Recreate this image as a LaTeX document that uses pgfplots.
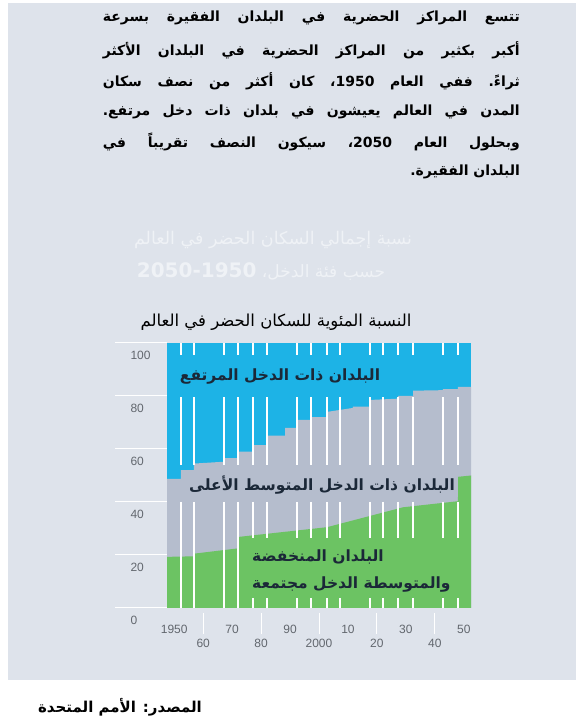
\documentclass[border=0pt]{standalone}
\usepackage{pgfplots}
\pgfplotsset{compat=1.18}
\usepackage{fontspec}
\setmainfont{Liberation Sans}
\newfontfamily\arabicfont[Script=Arabic]{DejaVu Sans}
\TeXXeTstate=1
\definecolor{panel}{HTML}{DEE3EB}
\definecolor{hiblue}{HTML}{1DB3E6}
\definecolor{midgrey}{HTML}{B5BDCD}
\definecolor{lowgreen}{HTML}{6CC363}
\definecolor{ticktext}{HTML}{62676E}
\definecolor{faint}{HTML}{EFF2F6}
\definecolor{labtext}{HTML}{1B2838}
\newcommand{\pline}[2]{\node[anchor=east, inner sep=0pt] at (520,#1)
  {\fontsize{14}{16}\selectfont\bfseries\makebox[417pt][s]{\arabicfont\beginR #2\endR}};}

\begin{document}
\begin{tikzpicture}[x=1pt, y=1pt]
\path[use as bounding box] (0,0) rectangle (576,721);
\fill[white] (0,0) rectangle (576,721);
\fill[panel] (8,41) rectangle (576,718);

% paragraph
\pline{703}{تتسع المراكز الحضرية في البلدان الفقيرة بسرعة}
\pline{671}{أكبر بكثير من المراكز الحضرية في البلدان الأكثر}
\pline{640}{ثراءً.\ ففي العام \beginL 1950\endL، كان أكثر من نصف سكان}
\pline{609}{المدن في العالم يعيشون في بلدان ذات دخل مرتفع.}
\pline{579}{وبحلول العام \beginL 2050\endL، سيكون النصف تقريباً في}
\node[anchor=east, inner sep=0pt] at (520,549)
  {\fontsize{14}{16}\selectfont\bfseries\arabicfont\beginR البلدان الفقيرة.\endR};

% faint heading
\node[text=faint, inner sep=0pt] at (273,481)
  {\fontsize{17.5}{20}\selectfont\arabicfont\beginR نسبة إجمالي السكان الحضر في العالم\endR};
\node[text=faint, inner sep=0pt] at (261,449)
  {\fontsize{17}{20}\selectfont\arabicfont\beginR حسب فئة الدخل، {\fontsize{20}{22}\selectfont\bfseries\beginL 1950\endL-\beginL 2050\endL}\endR};

% chart title
\node[inner sep=0pt] at (276,399)
  {\fontsize{16.5}{18}\selectfont\arabicfont\beginR النسبة المئوية للسكان الحضر في العالم\endR};

\begin{axis}[
  at={(167pt,113pt)}, anchor=south west,
  scale only axis, width=304pt, height=265pt,
  xmin=1947.5, xmax=2052.5, ymin=0, ymax=100,
  axis line style={draw=none},
  tick align=outside,
  major tick length=0pt,
  xtick pos=bottom, ytick pos=left,
  ytick={0,20,...,100},
  yticklabel style={anchor=north west, xshift=-40pt, yshift=-5pt},
  xtick={1950,1970,1990,2010,2030,2050},
  xticklabels={1950,70,90,10,30,50},
  xticklabel style={yshift=-14pt},
  extra x ticks={1960,1980,2000,2020,2040},
  extra x tick labels={60,80,2000,20,40},
  extra x tick style={xticklabel style={yshift=-14pt}},
  tick style={draw=none},
  tick label style={font=\fontsize{12}{14}\selectfont, text=ticktext},
  /pgf/number format/assume math mode=true,
  unbounded coords=jump,
  clip=false,
]
\addplot[fill=hiblue, draw=none] coordinates {(1947.5,100)(2052.5,100)} \closedcycle;
\addplot[fill=midgrey, draw=none] coordinates {
  (1947.5,48.7)(1952.3,48.7)(1952.3,52)(1956.8,52)(1956.8,54.5)(1967.2,55.2)
  (1967.2,56.6)(1972,56.6)(1972,59)(1977.2,59)(1977.2,61.5)(1982,61.5)
  (1982,65)(1988.3,65)(1988.3,68)(1992.4,68)(1992.4,71)(1997.2,71)
  (1997.2,72)(2002.8,72)(2002.8,74)(2011.7,75.5)(2011.7,76)(2017.6,76)
  (2017.6,78.5)(2027.3,79)(2027.3,80)(2032.5,80)(2032.5,82)(2042.8,82.2)
  (2042.8,82.6)(2048,82.6)(2048,83.4)(2052.5,83.4)} \closedcycle;
\addplot[fill=lowgreen, draw=none] coordinates {
  (1947.5,19.3)(1956.8,19.5)(1956.8,20.5)(1972,22.5)(1972,26.8)
  (2002.8,30.5)(2029,38)(2048,40.3)(2048,49.5)(2052.5,50)} \closedcycle;
% white separators
\addplot[white, line width=1.6pt] coordinates {
  (1952.3,100)(1952.3,95.5)(1952.3,nan)(1952.3,79.6)(1952.3,54)(1952.3,nan)(1952.3,40)(1952.3,0)(1952.3,nan)
  (1956.8,100)(1956.8,95.5)(1956.8,nan)(1956.8,79.6)(1956.8,54)(1956.8,nan)(1956.8,40)(1956.8,0)(1956.8,nan)
  (1967.2,100)(1967.2,95.5)(1967.2,nan)(1967.2,79.6)(1967.2,54)(1967.2,nan)(1967.2,40)(1967.2,0)(1967.2,nan)
  (1972.0,100)(1972.0,95.5)(1972.0,nan)(1972.0,79.6)(1972.0,54)(1972.0,nan)(1972.0,40)(1972.0,0)(1972.0,nan)
  (1977.2,100)(1977.2,95.5)(1977.2,nan)(1977.2,79.6)(1977.2,54)(1977.2,nan)(1977.2,40)(1977.2,26.4)(1977.2,nan)(1977.2,3.8)(1977.2,0)(1977.2,nan)
  (1982.0,100)(1982.0,95.5)(1982.0,nan)(1982.0,79.6)(1982.0,54)(1982.0,nan)(1982.0,40)(1982.0,26.4)(1982.0,nan)(1982.0,3.8)(1982.0,0)(1982.0,nan)
  (1992.4,100)(1992.4,95.5)(1992.4,nan)(1992.4,79.6)(1992.4,54)(1992.4,nan)(1992.4,40)(1992.4,26.4)(1992.4,nan)(1992.4,3.8)(1992.4,0)(1992.4,nan)
  (1997.2,100)(1997.2,95.5)(1997.2,nan)(1997.2,79.6)(1997.2,54)(1997.2,nan)(1997.2,40)(1997.2,26.4)(1997.2,nan)(1997.2,3.8)(1997.2,0)(1997.2,nan)
  (2002.8,100)(2002.8,95.5)(2002.8,nan)(2002.8,79.6)(2002.8,54)(2002.8,nan)(2002.8,40)(2002.8,26.4)(2002.8,nan)(2002.8,3.8)(2002.8,0)(2002.8,nan)
  (2007.3,100)(2007.3,95.5)(2007.3,nan)(2007.3,79.6)(2007.3,54)(2007.3,nan)(2007.3,40)(2007.3,26.4)(2007.3,nan)(2007.3,3.8)(2007.3,0)(2007.3,nan)
  (2017.6,100)(2017.6,95.5)(2017.6,nan)(2017.6,79.6)(2017.6,54)(2017.6,nan)(2017.6,40)(2017.6,26.4)(2017.6,nan)(2017.6,3.8)(2017.6,0)(2017.6,nan)
  (2022.1,100)(2022.1,95.5)(2022.1,nan)(2022.1,79.6)(2022.1,54)(2022.1,nan)(2022.1,40)(2022.1,26.4)(2022.1,nan)(2022.1,3.8)(2022.1,0)(2022.1,nan)
  (2027.3,100)(2027.3,95.5)(2027.3,nan)(2027.3,79.6)(2027.3,54)(2027.3,nan)(2027.3,40)(2027.3,26.4)(2027.3,nan)(2027.3,3.8)(2027.3,0)(2027.3,nan)
  (2032.5,100)(2032.5,95.5)(2032.5,nan)(2032.5,79.6)(2032.5,54)(2032.5,nan)(2032.5,40)(2032.5,26.4)(2032.5,nan)(2032.5,3.8)(2032.5,0)(2032.5,nan)
  (2042.8,100)(2042.8,95.5)(2042.8,nan)(2042.8,79.6)(2042.8,54)(2042.8,nan)(2042.8,40)(2042.8,26.4)(2042.8,nan)(2042.8,3.8)(2042.8,0)(2042.8,nan)
  (2048.0,100)(2048.0,95.5)(2048.0,nan)(2048.0,79.6)(2048.0,54)(2048.0,nan)(2048.0,40)(2048.0,26.4)(2048.0,nan)(2048.0,3.8)(2048.0,0)
};
% white tick lines left of the plot and below it
\addplot[white, line width=1pt] coordinates {
  (1929.5,0)(1947.5,0)(1947.5,nan)(1929.5,20)(1947.5,20)(1947.5,nan)
  (1929.5,40)(1947.5,40)(1947.5,nan)(1929.5,60)(1947.5,60)(1947.5,nan)
  (1929.5,80)(1947.5,80)(1947.5,nan)(1929.5,100)(1947.5,100)};
\addplot[white, line width=1pt] coordinates {
  (1960,-2)(1960,-10)(1960,nan)(1980,-2)(1980,-10)(1980,nan)
  (2000,-2)(2000,-10)(2000,nan)(2020,-2)(2020,-10)(2020,nan)
  (2040,-2)(2040,-10)};
\end{axis}

% area labels
\node[text=labtext, inner sep=0pt] at (280,344)
  {\fontsize{15.5}{18}\selectfont\bfseries\arabicfont\beginR البلدان ذات الدخل المرتفع\endR};
\node[text=labtext, fill=midgrey, inner sep=3pt] at (322,236)
  {\fontsize{15.5}{18}\selectfont\bfseries\arabicfont\beginR البلدان ذات الدخل المتوسط الأعلى\endR};
\node[text=labtext, anchor=west, inner sep=0pt] at (252,164)
  {\fontsize{15.5}{18}\selectfont\bfseries\arabicfont\beginR البلدان المنخفضة\endR};
\node[text=labtext, anchor=west, inner sep=0pt] at (252,136)
  {\fontsize{15.5}{18}\selectfont\bfseries\arabicfont\beginR والمتوسطة الدخل مجتمعة\endR};

% source
\node[inner sep=0pt] at (120,14)
  {\fontsize{15}{17}\selectfont\bfseries\arabicfont\beginR المصدر: الأمم المتحدة\endR};
\end{tikzpicture}
\end{document}
